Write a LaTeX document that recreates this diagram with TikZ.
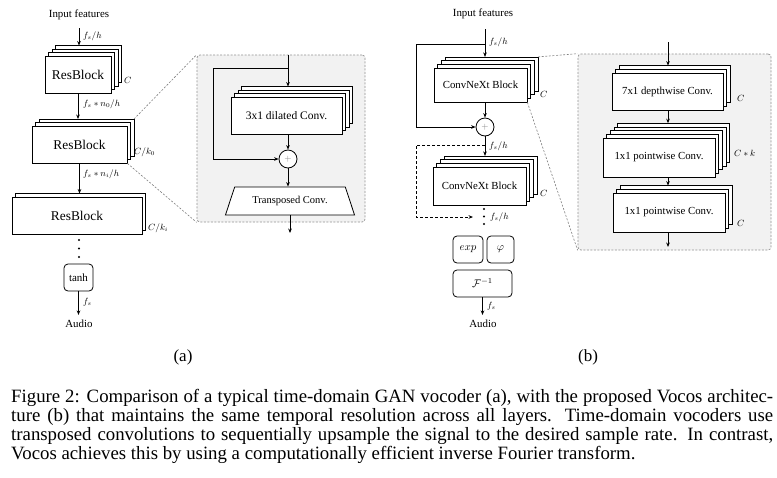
\RequirePackage{fix-cm}
\documentclass[tikz,border=0pt]{standalone}
\usepackage{fontspec}
\setmainfont{Liberation Serif}
\usetikzlibrary{arrows.meta,shapes.geometric,calc}
\newcommand\fsz[1]{\fontsize{#1}{#1}\selectfont}
\newcommand\stk[8]{%
  \foreach \k in {#6,...,1}{%
    \draw[fill=white, line width=0.8pt] ({#2-#4/2+\k*#7},{#3-#5/2-\k*#7}) rectangle ({#2+#4/2+\k*#7},{#3+#5/2-\k*#7});}
  \node[blk, minimum width=#4pt, minimum height=#5pt] (#1) at (#2,#3) {#8};
  \coordinate (#1-tr) at ({#2+#4/2+#6*#7},{#3-#5/2-#6*#7});
}
\tikzset{
  blk/.style={draw, fill=white, line width=0.8pt, inner sep=0pt, font=\fsz{10.8}},
  rbox/.style={blk, rounded corners=4pt},
  lab/.style={font=\fsz{9}, inner sep=0pt, anchor=west},
  txt/.style={font=\fsz{10.9}, inner sep=0pt},
  arr/.style={-{Stealth[length=4.5pt,width=3.6pt]}, line width=0.8pt},
  zoomln/.style={draw=gray, dash pattern=on 2pt off 1.6pt, line width=0.6pt},
  inset/.style={draw=gray!85, fill=black!5, dash pattern=on 2pt off 1.5pt, rounded corners=3pt, line width=0.7pt},
  sumc/.style={circle, draw, fill=white, minimum size=18pt, inner sep=0pt, line width=0.8pt},
  captxt/.style={font=\fsz{18.8}, inner sep=0pt},
}
\begin{document}
\begin{tikzpicture}[x=1pt,y=-1pt]
\fill[white] (0,0) rectangle (777,477);
\useasboundingbox (0,0) rectangle (777,477);

% ---------------- (a) ----------------
\node[txt, inner ysep=8pt] (in1) at (79,15) {Input features};
\stk{rb1}{78}{74.5}{66}{37}{3}{3.5}{\fsz{13.4}ResBlock}
\draw[arr] (in1.south) -- (in1 |- rb1-tr);
\node[lab] (l1) at (83,36) {$f_s/h$};
\node[lab] (l2) at (124,80) {$C$};

\stk{rb2}{79.5}{144.5}{95}{37}{2}{3.5}{\fsz{13.4}ResBlock}
\draw[arr] (rb1.south) -- (rb1.south |- rb2-tr);
\node[lab] (l3) at (83,104) {$f_s*n_0/h$};
\node[lab] (l4) at (134,152) {$C/k_0$};

\stk{rb3}{77}{215.5}{130}{37}{1}{3.5}{\fsz{13.4}ResBlock}
\draw[arr] (rb2.south) -- (rb2.south |- rb3-tr);
\node[lab] (l5) at (83,174) {$f_s*n_i/h$};
\node[lab] (l6) at (148,228) {$C/k_i$};

\fill (79,240) circle (1.1);
\fill (79,248.5) circle (1.1);
\fill (79,257) circle (1.1);

\node[rbox, minimum width=29pt, minimum height=27pt, font=\fsz{11}] (tanh) at (78.5,277.5) {tanh};
\node[txt, inner ysep=5pt] (aud1) at (79,324) {Audio};
\draw[arr] (tanh.south) -- (tanh.south |- aud1.north);
\node[lab] (l7) at (83,302) {$f_s$};

% inset a
\node[inset, minimum width=168pt, minimum height=167pt] (ins1) at (281,138.5) {};
\draw[zoomln] (rb2-tr) -- (ins1.north west);
\draw[zoomln] (rb2.south east) -- (ins1.south west);
\stk{conv}{286.5}{115.5}{111}{37}{3}{3.5}{\fsz{11.5}3x1 dilated Conv.}
\coordinate (it1) at (288,55);
\draw[arr] (it1) -- (it1 |- conv-tr);
\node[sumc] (sum1) at (288,159) {\fsz{9}\color{gray}$+$};
\coordinate (rs1) at (288,68);
\coordinate (rc1) at (213,68);
\draw[arr] (rs1) -- (rc1) |- (sum1.west);
\draw[arr] (sum1 |- conv.south) -- (sum1.north);
\node[trapezium, trapezium stretches=true, trapezium left angle=56.5, trapezium right angle=56.5,
      minimum width=130pt, minimum height=28pt, draw, fill=white, line width=0.8pt, inner sep=0pt,
      font=\fsz{10.5}] (tc) at (290,201) {Transposed Conv.};
\draw[arr] (sum1.south) -- (sum1 |- tc.north);
\coordinate (ot1) at (290,233);
\draw[arr] (ot1 |- tc.south) -- (ot1);

% ---------------- (b) ----------------
\node[txt] (in2) at (483,14) {Input features};
\stk{cnb1}{480.5}{85}{93}{34}{3}{3.7}{ConvNeXt Block}
\coordinate (is2) at (485,29);
\draw[arr] (is2) -- (is2 |- cnb1-tr);
\node[lab] (m1) at (489,42) {$f_s/h$};
\node[lab] (m2) at (540,94) {$C$};
\node[sumc] (sum2) at (485,127) {\fsz{9}\color{gray}$+$};
\coordinate (rs2) at (485,44);
\coordinate (rc2) at (416,44);
\draw[arr] (rs2) -- (rc2) |- (sum2.west);
\draw[arr] (sum2 |- cnb1.south) -- (sum2.north);

\stk{cnb2}{479.5}{186}{93}{38}{3}{3.7}{ConvNeXt Block}
\draw[arr] (sum2.south) -- (sum2 |- cnb2-tr);
\node[lab] (m3) at (489,146) {$f_s/h$};
\node[lab] (m4) at (540,193) {$C$};
\coordinate (ds2) at (485,145);
\coordinate (dc2) at (416,145);
\coordinate (de2) at (473,217);
\draw[arr, dash pattern=on 3pt off 2pt] (ds2) -- (dc2) |- (de2);

\fill (484,209) circle (1.1);
\fill (484,216.5) circle (1.1);
\fill (484,224) circle (1.1);
\node[lab] (m5) at (490,217) {$f_s/h$};

\node[rbox, minimum width=30pt, minimum height=27pt, font=\fsz{11}] (exp) at (468,249.5) {$exp$};
\node[rbox, minimum width=27pt, minimum height=27pt, font=\fsz{11}] (phi) at (500.5,249.5) {$\varphi$};
\node[rbox, minimum width=59pt, minimum height=27pt, font=\fsz{11}] (finv) at (482.5,283.5) {$\mathcal{F}^{-1}$};
\node[txt, inner ysep=5pt] (aud2) at (483,324) {Audio};
\draw[arr] (finv.south) -- (finv.south |- aud2.north);
\node[lab] (m6) at (487,306) {$f_s$};

% inset b
\node[inset, minimum width=193pt, minimum height=196pt] (ins2) at (674.5,152) {};
\draw[zoomln] (cnb1-tr) -- (ins2.north west);
\draw[zoomln] (cnb1.south east) -- (ins2.south west);
\stk{dw}{667.5}{91.5}{111}{37}{2}{3.7}{7x1 depthwise Conv.}
\coordinate (it2) at (668,42);
\draw[arr] (it2) -- (it2 |- dw-tr);
\node[lab] (n1) at (737,98) {$C$};
\stk{pw1}{659}{157.5}{112}{39}{4}{3.7}{1x1 pointwise Conv.}
\draw[arr] (it2 |- dw.south) -- (it2 |- pw1-tr);
\node[lab] (n2) at (734,153) {$C*k$};
\stk{pw2}{669}{212.5}{112}{39}{2}{3.7}{1x1 pointwise Conv.}
\draw[arr] (it2 |- pw1.south) -- (it2 |- pw2-tr);
\node[lab] (n3) at (737,223) {$C$};
\coordinate (ot2) at (668,247);
\draw[arr] (it2 |- pw2.south) -- (ot2);

% ---------------- captions ----------------
\node[captxt, font=\fsz{17}] (sa) at (183,357) {(a)};
\node[captxt, font=\fsz{17}] (sb) at (588,357) {(b)};
\node[captxt, anchor=base west] (c1) at (11,402) {\hbox to 762pt{Figure 2: Comparison of a typical time-domain GAN vocoder (a), with the proposed Vocos architec-}};
\node[captxt, anchor=base west] (c2) at (11,421) {\hbox to 762pt{ture (b) that maintains the same temporal resolution across all layers. Time-domain vocoders use}};
\node[captxt, anchor=base west] (c3) at (11,440) {\hbox to 762pt{transposed convolutions to sequentially upsample the signal to the desired sample rate. In contrast,}};
\node[captxt, anchor=base west] (c4) at (11,459) {Vocos achieves this by using a computationally efficient inverse Fourier transform.};
\end{tikzpicture}
\end{document}
